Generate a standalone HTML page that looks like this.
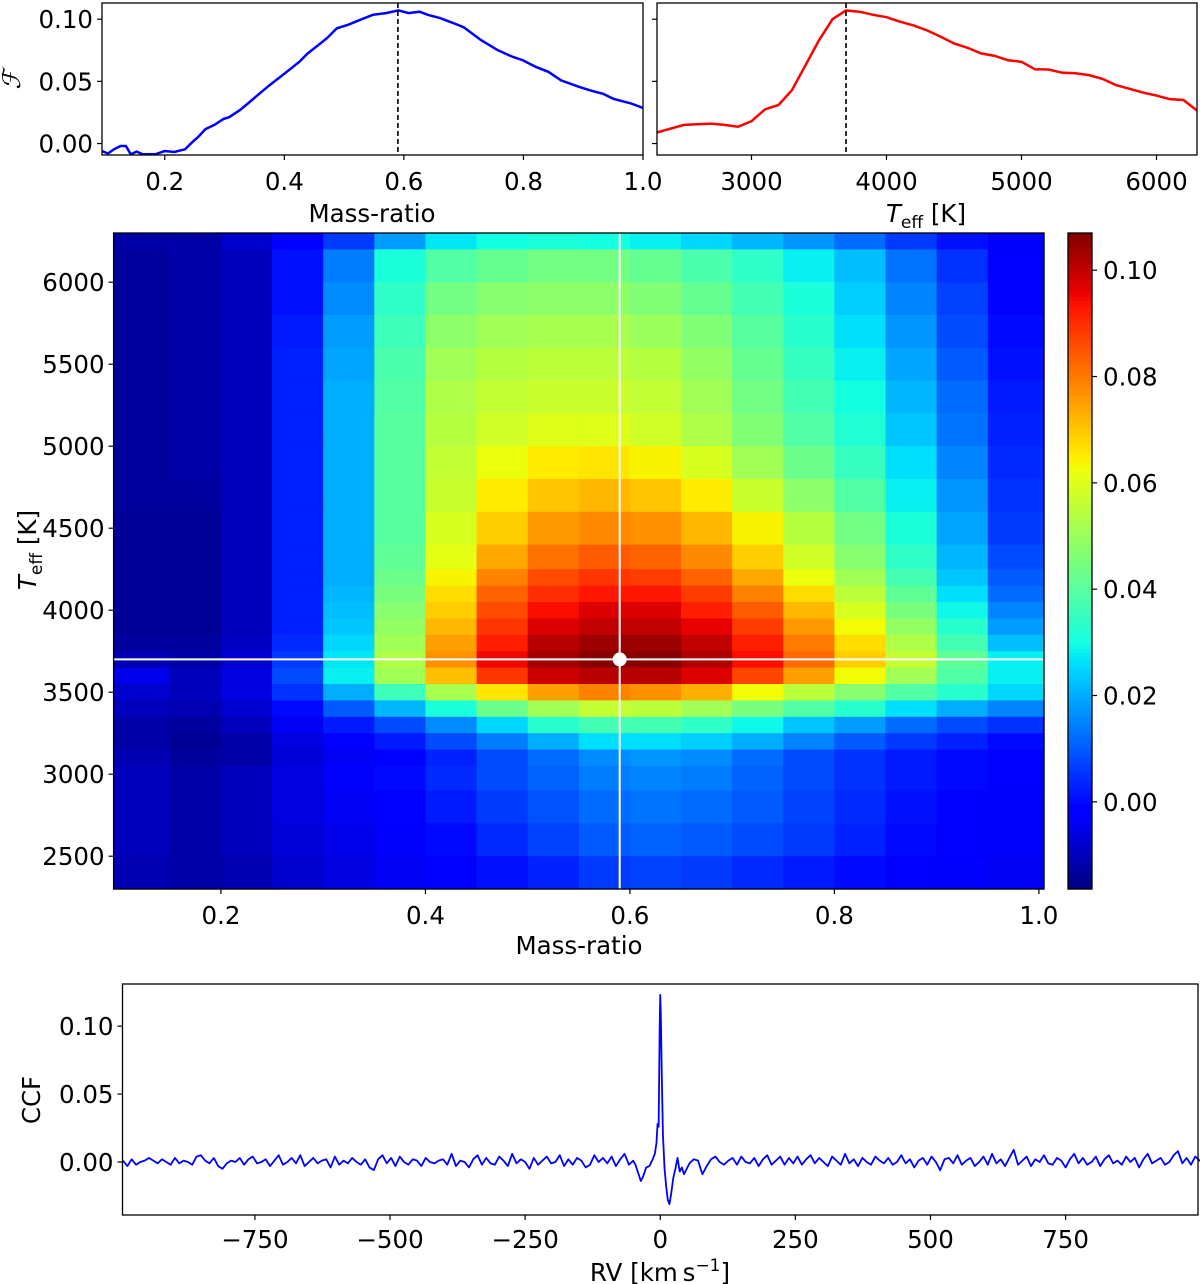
<!DOCTYPE html>
<html><head><meta charset="utf-8"><style>
html,body{margin:0;padding:0;background:#fff;}
svg{display:block;font-family:"DejaVu Sans","Liberation Sans",sans-serif;}
</style></head><body>
<svg id="fig" width="1200" height="1284" viewBox="0 0 1200 1284" xmlns="http://www.w3.org/2000/svg">
<g id="heat"></g>
<g id="cbar"></g>
<g id="lines"></g>
<g id="axes"></g>
</svg>
<script>
// ---------- top-left: F vs mass ratio ----------
const qCurveX=[0.095,0.105,0.115,0.126,0.135,0.143,0.153,0.163,0.184,0.2,0.216,0.234,0.247,0.255,0.268,0.283,0.298,0.308,0.326,0.343,0.358,0.375,0.393,0.411,0.425,0.439,0.457,0.471,0.488,0.506,0.527,0.548,0.570,0.591,0.608,0.626,0.640,0.661,0.683,0.700,0.729,0.757,0.782,0.799,0.821,0.842,0.863,0.891,0.912,0.933,0.951,0.979,1.0];
const qCurveF=[-0.006,-0.008,-0.0046,-0.002,-0.002,-0.0086,-0.0065,-0.0086,-0.0086,-0.006,-0.0068,-0.0046,0.0016,0.0049,0.0116,0.015,0.0197,0.0213,0.027,0.0338,0.040,0.0468,0.0535,0.0603,0.0657,0.0724,0.0792,0.0846,0.0927,0.0954,0.0995,0.1035,0.1049,0.107,0.1049,0.106,0.1035,0.1008,0.0968,0.0935,0.0832,0.0751,0.0697,0.067,0.0616,0.0576,0.0508,0.0459,0.0427,0.040,0.0359,0.0324,0.0286];
// ---------- top-right: F vs Teff ----------
const tCurveX=[2300,2500,2700,2800,2900,3000,3100,3200,3300,3400,3500,3600,3700,3800,3900,4000,4100,4200,4300,4400,4500,4600,4700,4800,4900,5000,5100,5200,5300,5400,5500,5600,5700,5800,5900,6000,6100,6200,6300];
const tCurveF=[0.009,0.015,0.016,0.015,0.0135,0.018,0.0275,0.031,0.043,0.063,0.083,0.100,0.107,0.106,0.1035,0.1016,0.098,0.095,0.091,0.086,0.0805,0.077,0.0725,0.0705,0.067,0.0657,0.0597,0.0595,0.057,0.0565,0.055,0.052,0.047,0.044,0.041,0.0386,0.0357,0.035,0.0265];
const bestQ=0.59, bestT=3700;
// ---------- heatmap ----------
const qEdges=[0.095,0.15,0.2,0.25,0.3,0.35,0.4,0.45,0.5,0.55,0.6,0.65,0.7,0.75,0.8,0.85,0.9,0.95,1.005];
const tEdges=[6300,6200,6000,5800,5600,5400,5200,5000,4800,4600,4400,4250,4150,4050,3950,3850,3750,3650,3550,3450,3350,3250,3150,3050,2900,2700,2500,2300];
const heatRows=[
[-12,-12,-8,-2,6,18,27,30,31,30,28,25,21,17,12,6,1,-3],
[-13,-12,-10,1,14,31,39,42,44,44,42,38,34,28,22,13,5,-2],
[-13,-12,-10,1,16,34,44,47,48,48,46,42,37,31,24,15,7,-1],
[-13,-12,-10,2,18,36,48,51,52,52,50,46,40,33,26,17,8,0],
[-13,-12,-10,3,19,38,51,54,55,55,54,49,42,35,28,19,10,1],
[-13,-12,-10,3,20,39,53,56,57,57,56,51,44,37,30,21,12,2],
[-13,-12,-10,3,20,40,54,58,60,60,58,53,46,39,32,23,13,3],
[-13,-12,-10,3,20,40,56,62,65,66,64,59,51,43,35,26,15,4],
[-13,-13,-10,3,20,40,57,65,70,72,70,65,57,48,39,28,17,5],
[-14,-14,-10,3,20,40,59,69,76,78,77,72,64,54,44,31,19,6],
[-14,-14,-10,3,20,41,61,74,81,84,83,78,69,58,47,34,21,8],
[-14,-14,-10,3,20,43,64,79,86,89,88,83,74,62,51,37,23,10],
[-14,-14,-10,3,21,45,67,83,90,93,93,88,79,67,55,41,26,12],
[-14,-14,-10,3,22,47,69,86,94,97,97,92,84,72,59,45,29,15],
[-14,-14,-10,3,23,49,72,89,97,100,100,96,88,76,63,49,33,18],
[-13,-13,-9,4,25,51,75,92,101,104,104,100,92,80,67,53,37,22],
[-11,-12,-8,6,27,53,77,95,103,106,106,102,94,82,69,56,41,28],
[-5,-10,-6,8,28,51,71,89,99,101,101,97,87,75,63,51,39,28],
[-8,-10,-6,5,20,36,52,66,75,79,77,73,63,55,47,39,33,25],
[-10,-11,-8,0,10,21,31,43,51,56,55,51,45,39,33,26,20,15],
[-12,-13,-10,-4,2,8,16,25,33,37,37,34,29,23,18,12,8,5],
[-12,-14,-12,-6,-2,2,8,14,20,26,26,24,20,15,10,6,3,0],
[-11,-13,-12,-7,-4,-1,3,8,12,16,17,16,12,8,5,2,0,-2],
[-10,-12,-10,-6,-3,0,4,8,11,14,15,14,11,8,5,2,0,-2],
[-10,-12,-10,-6,-4,-2,2,6,9,12,13,12,10,7,4,1,-1,-3],
[-10,-12,-10,-7,-5,-3,0,4,7,10,11,10,8,6,3,0,-2,-3],
[-11,-12,-11,-8,-6,-4,-2,1,3,6,7,6,4,2,0,-2,-3,-4]];
const vmin=-0.0164, vmax=0.107;
const cbarTicks=[0.00,0.02,0.04,0.06,0.08,0.10];
// ---------- CCF ----------
const ccfStart=-994, ccfStep=8;
const ccfNoise=[1,-3,2,-2,0,1,3,1,-1,2,0,-2,3,-1,1,0,-2,4,5,1,
-1,3,-3,-5,-1,1,0,3,-2,2,4,-1,0,2,-3,1,5,-2,0,3,
-1,5,-3,0,3,-1,1,2,-4,4,-2,1,-1,3,0,-2,2,-4,-6,2,
5,-1,3,-3,4,0,-2,2,1,-3,3,0,-1,1,2,-2,6,-3,1,0,
-4,2,5,-2,3,-1,-2,4,1,-3,6,-1,2,0,-5,3,-2,1,4,-1,
0,5,-3,2,-2,3,1,-4,-2,5,0,3,-1,4,-3,2,6,-2,1,-4,
2,4,-1,-4,3,1,-2,5,0,-3,3,-1,2,1,-9,-3,2,4,0,-2,
1,3,-2,4,0,-1,3,-3,2,5,-2,1,4,-2,3,-1,4,-2,2,5,
-1,3,0,-3,4,1,-2,6,-1,2,-3,3,0,-2,4,1,-1,3,-2,0,
5,-1,2,-4,1,3,-2,4,0,-6,2,3,-1,5,-2,1,3,-3,0,4,
-2,6,-1,2,-3,3,9,-2,1,4,-3,2,0,5,-1,-2,3,1,-4,2,
6,-1,3,-2,0,4,-3,2,5,-1,1,-2,4,0,3,-4,2,6,-1,1,
3,-2,0,5,8,-1,3,-2,4,1,0,-1];
const peakRv=[-46,-40,-36,-32,-26,-20,-14,-10,-7,-5,-3,-1,0,1,3,5,8,11,14,17,20,24,28,32,36,40,44];
const peakVal=[-2,-9,-14,-11,-4,-3,2,6,14,28,26,100,123,110,60,20,-5,-18,-28,-31,-24,-12,-5,3,-7,-4,-9];
const rvTicks=[-750,-500,-250,0,250,500,750];

const NS='http://www.w3.org/2000/svg';
const FS=24.5, FSS=17;
function mk(tag,attrs,parent){const e=document.createElementNS(NS,tag);for(const k in attrs)e.setAttribute(k,attrs[k]);parent.appendChild(e);return e;}
function lin(d0,d1,r0,r1){return v=>r0+(v-d0)/(d1-d0)*(r1-r0);}
function jet(t){t=Math.max(0,Math.min(1,t));
 function pw(pts){for(let i=1;i<pts.length;i++){if(t<=pts[i][0]){const a=pts[i-1],b=pts[i];return a[1]+(t-a[0])/(b[0]-a[0])*(b[1]-a[1]);}}return pts[pts.length-1][1];}
 const r=pw([[0,0],[0.35,0],[0.66,1],[0.89,1],[1,0.5]]);
 const g=pw([[0,0],[0.125,0],[0.375,1],[0.64,1],[0.91,0],[1,0]]);
 const b=pw([[0,0.5],[0.11,1],[0.34,1],[0.65,0],[1,0]]);
 return 'rgb('+Math.round(r*255)+','+Math.round(g*255)+','+Math.round(b*255)+')';}
const axes=document.getElementById('axes'), lines=document.getElementById('lines'), heat=document.getElementById('heat'), cbar=document.getElementById('cbar');
function text(x,y,s,anchor,parent,name,size){const t=mk('text',{x:x,y:y,'text-anchor':anchor||'middle','font-size':size||FS,fill:'#000'},parent);t.textContent=s;
 
 return t;}
function frame(x0,y0,x1,y1,name){const r=mk('rect',{x:x0,y:y0,width:x1-x0,height:y1-y0,fill:'none',stroke:'#000','stroke-width':1.3},axes);
 
 }
function tick(x1,y1,x2,y2){const l=mk('line',{x1:x1,y1:y1,x2:x2,y2:y2,stroke:'#000','stroke-width':1.2},axes);
 
 }
function poly(xs,ys,sx,sy,color,w,name){let d='';for(let i=0;i<xs.length;i++)d+=(i?'L':'M')+sx(xs[i]).toFixed(2)+','+sy(ys[i]).toFixed(2);
 const p=mk('path',{d:d,fill:'none',stroke:color,'stroke-width':w,'stroke-linejoin':'round'},lines);
 
 }
const teffHTML='<tspan font-style="italic">T</tspan><tspan font-size="'+FSS+'" dy="6">eff</tspan><tspan dy="-6"> [K]</tspan>';

// top-left panel
(function(){const X0=102,X1=643,Y0=3,Y1=155;const sx=lin(0.095,1.0,X0,X1), sy=lin(-0.0092,0.113,Y1,Y0);
 const cp=mk('clipPath',{id:'c1'},lines);mk('rect',{x:X0,y:Y0,width:X1-X0,height:Y1-Y0},cp);
 const g=mk('g',{'clip-path':'url(#c1)'},lines);
 let d='';for(let i=0;i<qCurveX.length;i++)d+=(i?'L':'M')+sx(qCurveX[i]).toFixed(2)+','+sy(qCurveF[i]).toFixed(2);
 const p=mk('path',{d:d,fill:'none',stroke:'#0000ff','stroke-width':2.5},g);
 
 
 const dl=mk('line',{x1:sx(bestQ),x2:sx(bestQ),y1:Y0,y2:Y1,stroke:'#000','stroke-width':1.6,'stroke-dasharray':'5,3'},g);
 
 
 frame(X0,Y0,X1,Y1,'mass-ratio-panel');
 [0.2,0.4,0.6,0.8,1.0].forEach(v=>{tick(sx(v),Y1,sx(v),Y1+5);text(sx(v),Y1+35,v.toFixed(1),'middle',axes,'x-tick-label');});
 [0,0.05,0.10].forEach(v=>{tick(X0-5,sy(v),X0,sy(v));text(X0-9,sy(v)+9,v.toFixed(2),'end',axes,'y-tick-label');});
 text(372,222,'Mass-ratio','middle',axes,'x-axis-title');
 const t=text(0,0,'ℱ','middle',axes,'y-axis-title');t.setAttribute('transform','translate(20,80) rotate(-90)');t.setAttribute('font-style','italic');t.setAttribute('font-family','"DejaVu Serif",serif');
})();
// top-right panel
(function(){const X0=657,X1=1197,Y0=3,Y1=155;const sx=lin(2300,6300,X0,X1), sy=lin(-0.0092,0.113,Y1,Y0);
 const cp=mk('clipPath',{id:'c2'},lines);mk('rect',{x:X0,y:Y0,width:X1-X0,height:Y1-Y0},cp);
 const g=mk('g',{'clip-path':'url(#c2)'},lines);
 let d='';for(let i=0;i<tCurveX.length;i++)d+=(i?'L':'M')+sx(tCurveX[i]).toFixed(2)+','+sy(tCurveF[i]).toFixed(2);
 const p=mk('path',{d:d,fill:'none',stroke:'#ff0000','stroke-width':2.5},g);
 
 
 const dl=mk('line',{x1:sx(bestT),x2:sx(bestT),y1:Y0,y2:Y1,stroke:'#000','stroke-width':1.6,'stroke-dasharray':'5,3'},g);
 
 
 frame(X0,Y0,X1,Y1,'teff-panel');
 [3000,4000,5000,6000].forEach(v=>{tick(sx(v),Y1,sx(v),Y1+5);text(sx(v),Y1+35,String(v),'middle',axes,'x-tick-label');});
 [0,0.05,0.10].forEach(v=>{tick(X0-5,sy(v),X0,sy(v));});
 const t=text(926,222,'','middle',axes,'x-axis-title');
 t.innerHTML=teffHTML;
})();
// heatmap
(function(){const X0=113.6,X1=1044,Y0=233,Y1=889;const sx=lin(0.095,1.005,X0,X1), sy=lin(2300,6300,Y1,Y0);
 for(let r=0;r<heatRows.length;r++){for(let c=0;c<heatRows[r].length;c++){
  const v=heatRows[r][c]/1000;const x0=sx(qEdges[c]),x1=sx(qEdges[c+1]),y0=sy(tEdges[r]),y1=sy(tEdges[r+1]);
  const rc=mk('rect',{x:x0.toFixed(2),y:y0.toFixed(2),width:(x1-x0+0.6).toFixed(2),height:(y1-y0+0.6).toFixed(2),fill:jet((v-vmin)/(vmax-vmin))},heat);
  
  }}
 const hl=mk('line',{x1:X0,x2:X1,y1:sy(bestT),y2:sy(bestT),stroke:'#fff','stroke-width':2},lines);
 
 
 const vl=mk('line',{x1:sx(bestQ),x2:sx(bestQ),y1:Y0,y2:Y1,stroke:'#fff','stroke-width':2},lines);
 
 
 const dot=mk('circle',{cx:sx(bestQ),cy:sy(bestT),r:7,fill:'#fff'},lines);
 
 
 frame(X0,Y0,X1,Y1,'heatmap-panel');
 [0.2,0.4,0.6,0.8,1.0].forEach(v=>{tick(sx(v),Y1,sx(v),Y1+5);text(sx(v),Y1+35,v.toFixed(1),'middle',axes,'x-tick-label');});
 [2500,3000,3500,4000,4500,5000,5500,6000].forEach(v=>{tick(X0-5,sy(v),X0,sy(v));text(X0-9,sy(v)+9,String(v),'end',axes,'y-tick-label');});
 text(579,954,'Mass-ratio','middle',axes,'x-axis-title');
 const t=text(0,0,'','middle',axes,'y-axis-title');t.setAttribute('transform','translate(36,550) rotate(-90)');
 t.innerHTML=teffHTML;
 // colorbar
 const CX0=1068,CX1=1092;const cy=lin(vmin,vmax,Y1,Y0);
 for(let i=0;i<164;i++){const y0=Y0+i*(Y1-Y0)/164;const v=vmax-(i+0.5)/164*(vmax-vmin);
  const rc=mk('rect',{x:CX0,y:y0.toFixed(2),width:CX1-CX0,height:((Y1-Y0)/164+0.6).toFixed(2),fill:jet((v-vmin)/(vmax-vmin))},cbar);
  
  }
 frame(CX0,Y0,CX1,Y1,'colorbar-frame');
 cbarTicks.forEach(v=>{tick(CX1,cy(v),CX1+5,cy(v));text(CX1+11,cy(v)+9,v.toFixed(2),'start',axes,'colorbar-tick-label');});
})();
// CCF panel
(function(){const X0=122.5,X1=1198,Y0=984,Y1=1215;const sx=lin(-995,995,X0,X1), sy=lin(-0.039,0.131,Y1,Y0);
 const pts=[];for(let i=0;i<ccfNoise.length;i++){const rv=ccfStart+i*ccfStep;if(Math.abs(rv)>47)pts.push([rv,ccfNoise[i]/1000]);}
 for(let i=0;i<peakRv.length;i++)pts.push([peakRv[i],peakVal[i]/1000]);
 pts.sort((a,b)=>a[0]-b[0]);
 poly(pts.map(p=>p[0]),pts.map(p=>p[1]),sx,sy,'#0000ff',1.8,'ccf-curve');
 frame(X0,Y0,X1,Y1,'ccf-panel');
 rvTicks.forEach(v=>{tick(sx(v),Y1,sx(v),Y1+5);text(sx(v),Y1+33,(v<0?'\u2212'+(-v):String(v)),'middle',axes,'x-tick-label');});
 [0,0.05,0.10].forEach(v=>{tick(X0-5,sy(v),X0,sy(v));text(X0-9,sy(v)+9,v.toFixed(2),'end',axes,'y-tick-label');});
 const t=text(660,1281,'','middle',axes,'x-axis-title');
 t.innerHTML='RV [km\u2009s<tspan font-size="'+FSS+'" dy="-10">\u22121</tspan><tspan dy="10">]</tspan>';
 const y=text(0,0,'CCF','middle',axes,'y-axis-title');y.setAttribute('transform','translate(40,1100) rotate(-90)');
})();
</script>
</body></html>
